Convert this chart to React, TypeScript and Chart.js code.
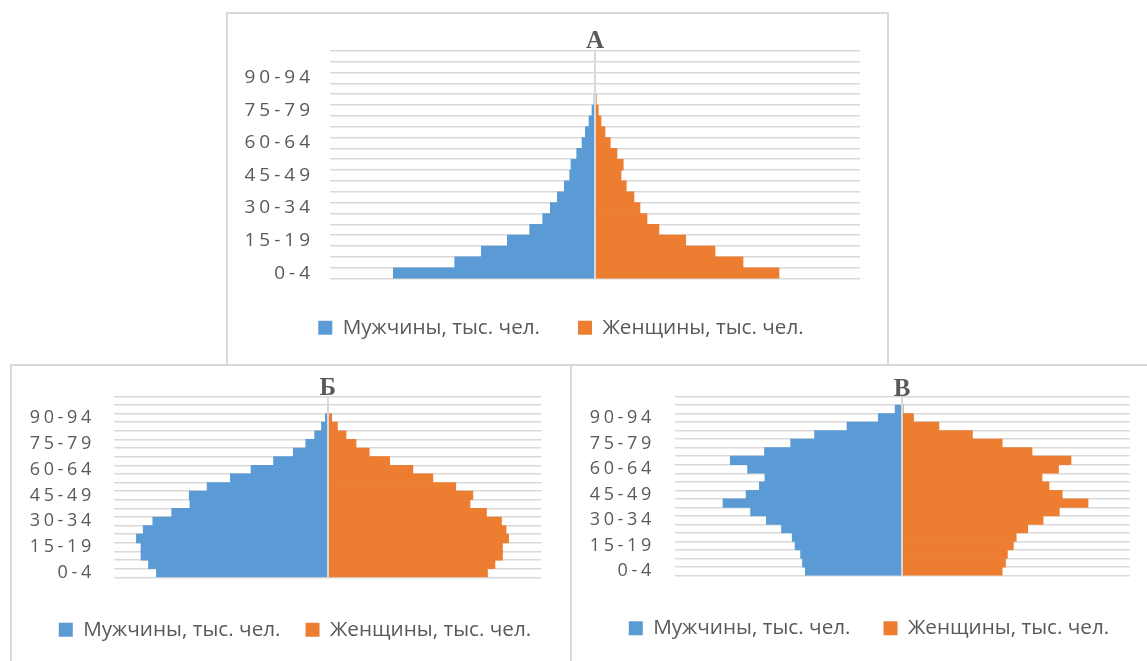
import React, { useEffect, useRef } from 'react';
import { Chart, registerables } from 'chart.js';

Chart.register(...registerables);

// ---------- data ----------
const AGE_GROUPS = ['0-4', '5-9', '10-14', '15-19', '20-24', '25-29', '30-34', '35-39', '40-44', '45-49', '50-54', '55-59', '60-64', '65-69', '70-74', '75-79', '80-84', '85-89', '90-94', '95-99', '100+'];
const MALE_LABEL = 'Мужчины, тыс. чел.';
const FEMALE_LABEL = 'Женщины, тыс. чел.';

const TITLE_A = 'А';
const MALE_A = [201.7, 140.3, 113.7, 87.7, 65.3, 52.3, 44.7, 37.7, 30.7, 25.3, 24.0, 18.3, 13.0, 9.7, 6.0, 3.0, 1.0, 0, 0, 0, 0];
const FEMALE_A = [184.0, 148.0, 120.0, 90.7, 64.0, 52.0, 45.0, 39.0, 31.3, 26.0, 28.3, 22.0, 15.3, 10.0, 6.0, 3.3, 1.3, 0, 0, 0, 0];
const MAX_A = 265;

const TITLE_B = 'Б';
const MALE_B = [171.4, 179.3, 186.8, 186.8, 191.4, 184.6, 175.0, 156.1, 137.9, 138.6, 120.7, 97.5, 76.8, 54.3, 34.6, 22.1, 13.2, 6.4, 2.5, 0, 0];
const FEMALE_B = [159.6, 167.1, 174.6, 174.6, 180.7, 178.2, 173.6, 158.6, 142.1, 145.0, 127.9, 105.0, 85.0, 61.8, 41.4, 28.2, 18.2, 9.6, 3.9, 0, 0];
const MAX_B = 213.5;

const TITLE_C = 'В';
const MALE_C = [96.8, 99.7, 101.6, 107.1, 110.0, 120.7, 135.8, 151.6, 179.2, 156.1, 142.8, 137.3, 154.6, 171.9, 137.7, 111.5, 87.6, 55.2, 23.9, 7.0, 0];
const FEMALE_C = [100.1, 103.4, 105.3, 111.2, 114.1, 125.5, 141.0, 157.2, 185.9, 160.1, 146.9, 139.9, 156.4, 168.9, 129.9, 100.1, 70.3, 36.8, 11.4, 1.1, 0];
const MAX_C = 227.7;

// ---------- styling / layout ----------
const BLUE = '#5b9bd5';
const ORANGE = '#ed7d31';
const GRID = '#d9d9d9';
const TEXT = '#595959';

type Layout = {
  left: number; top: number; width: number; height: number;
  padL: number; padB: number; yAxisW: number; rightW: number;
  titleLH: number; titlePadT: number; titlePadB: number;
  xAxisH: number; legendPad: number;
  tickSize: number; tickSpacing: number; tickPad: number;
};

const LAYOUT_A: Layout = {
  left: 226, top: 12, width: 663, height: 354,
  padL: 7, padB: 16, yAxisW: 95, rightW: 27,
  titleLH: 0.7, titlePadT: 18.85, titlePadB: 0.35,
  xAxisH: 0.7, legendPad: 38,
  tickSize: 19, tickSpacing: 4, tickPad: 16,
};
const LAYOUT_B: Layout = {
  left: 10, top: 364, width: 562, height: 300,
  padL: 8, padB: 12, yAxisW: 94.3, rightW: 28.6,
  titleLH: 0.5, titlePadT: 13.05, titlePadB: 1.15,
  xAxisH: 17, legendPad: 25,
  tickSize: 18, tickSpacing: 3.6, tickPad: 19.5,
};
const LAYOUT_C: Layout = {
  left: 570, top: 364, width: 580, height: 300,
  padL: 18, padB: 13.3, yAxisW: 84.5, rightW: 18.2,
  titleLH: 0.5, titlePadT: 13.05, titlePadB: 1.15,
  xAxisH: 9.4, legendPad: 33,
  tickSize: 18, tickSpacing: 3.6, tickPad: 19.7,
};

const tickSpacingPlugin = {
  id: 'tickSpacing',
  beforeDraw(chart: any, _args: any, opts: any) {
    const s: any = chart.scales.y;
    if (!s || s.__spaced) return;
    const orig = s.drawLabels.bind(s);
    s.drawLabels = (ca: any) => {
      const c: any = s.ctx;
      c.save();
      c.letterSpacing = (opts && opts.spacing ? opts.spacing : 0) + 'px';
      orig(ca);
      c.restore();
    };
    s.__spaced = true;
  },
};

type PyramidProps = { title: string; male: number[]; female: number[]; max: number; layout: Layout };

function Pyramid({ title, male, female, max, layout }: PyramidProps) {
  const ref = useRef<HTMLCanvasElement | null>(null);
  const cw = layout.width - 4;
  const ch = layout.height - 4;

  useEffect(() => {
    if (!ref.current) return;
    const L = layout;
    const chart = new Chart(ref.current, {
      type: 'bar',
      data: {
        labels: AGE_GROUPS,
        datasets: [
          { label: MALE_LABEL, data: male.map((v) => -v), backgroundColor: BLUE, borderWidth: 0, barPercentage: 1, categoryPercentage: 1 },
          { label: FEMALE_LABEL, data: female, backgroundColor: ORANGE, borderWidth: 0, barPercentage: 1, categoryPercentage: 1 },
        ],
      },
      plugins: [tickSpacingPlugin as any],
      options: {
        indexAxis: 'y',
        responsive: false,
        maintainAspectRatio: false,
        animation: false,
        layout: { padding: { left: L.padL, right: 0, top: 0, bottom: L.padB } },
        scales: {
          x: {
            type: 'linear',
            min: -max,
            max: max,
            stacked: true,
            ticks: { display: false, stepSize: max },
            grid: {
              z: 1,
              drawTicks: false,
              lineWidth: 2,
              color: (ctx: any) => (ctx.tick && Math.abs(ctx.tick.value) < 1e-9 ? GRID : 'rgba(0,0,0,0)'),
            },
            border: { display: false },
            afterFit: (s: any) => { s.height = L.xAxisH; },
          },
          y: {
            type: 'category',
            reverse: true,
            stacked: true,
            offset: true,
            grid: { offset: true, color: GRID, lineWidth: 1.5, drawTicks: false },
            border: { display: false },
            ticks: {
              autoSkip: false,
              padding: L.tickPad,
              color: TEXT,
              font: { family: 'Open Sans', size: L.tickSize },
              callback: (_v: any, i: number) => (i % 3 === 0 ? AGE_GROUPS[i] : ''),
            },
            afterFit: (s: any) => { s.width = L.yAxisW; },
          },
          y2: {
            type: 'category',
            position: 'right',
            labels: AGE_GROUPS,
            grid: { display: false, drawTicks: false },
            border: { display: false },
            ticks: { display: false },
            afterFit: (s: any) => { s.width = L.rightW; },
          },
        },
        plugins: {
          tickSpacing: { spacing: L.tickSpacing },
          title: {
            display: true,
            text: title,
            position: 'top',
            fullSize: false,
            align: 'center',
            color: TEXT,
            font: { family: 'Liberation Serif', size: 25, weight: 'bold', lineHeight: L.titleLH },
            padding: { top: L.titlePadT, bottom: L.titlePadB },
          },
          legend: {
            display: true,
            position: 'bottom',
            labels: {
              boxWidth: 14,
              boxHeight: 14,
              padding: L.legendPad,
              color: TEXT,
              font: { family: 'Open Sans', size: 20.7 },
            },
          },
          tooltip: { enabled: false },
        },
      } as any,
    });
    return () => chart.destroy();
  }, [title, male, female, max, layout]);

  return (
    <div
      style={{
        position: 'absolute',
        left: layout.left,
        top: layout.top,
        width: layout.width,
        height: layout.height,
        border: `2px solid ${GRID}`,
        boxSizing: 'border-box',
        background: '#fff',
      }}
    >
      <canvas ref={ref} width={cw} height={ch} style={{ display: 'block', width: cw, height: ch }} />
    </div>
  );
}

export default function App() {
  return (
    <div style={{ position: 'fixed', left: 0, top: 0, width: 1147, height: 661, overflow: 'hidden', background: '#fff' }}>
      <Pyramid title={TITLE_B} male={MALE_B} female={FEMALE_B} max={MAX_B} layout={LAYOUT_B} />
      <Pyramid title={TITLE_C} male={MALE_C} female={FEMALE_C} max={MAX_C} layout={LAYOUT_C} />
      <Pyramid title={TITLE_A} male={MALE_A} female={FEMALE_A} max={MAX_A} layout={LAYOUT_A} />
    </div>
  );
}
